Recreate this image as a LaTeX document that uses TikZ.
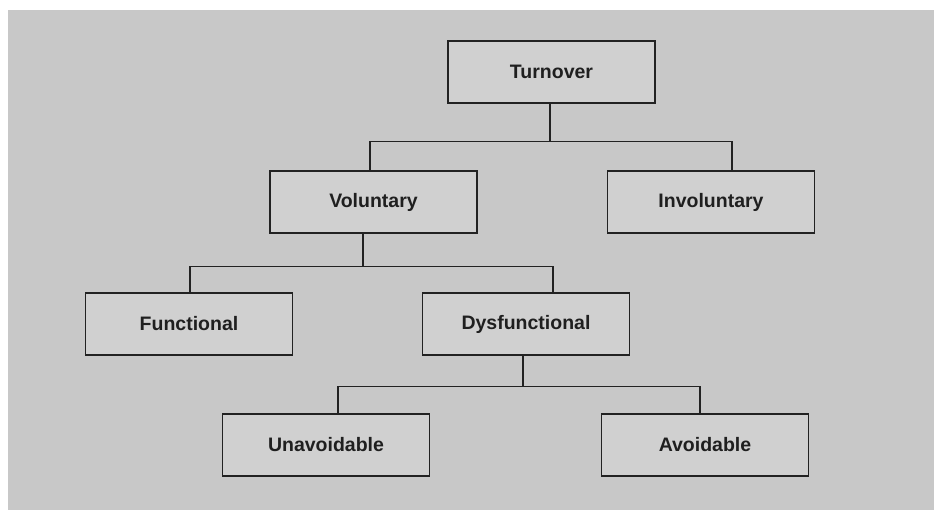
\documentclass[tikz,border=0pt]{standalone}
\usepackage{fontspec}
\setmainfont{Liberation Sans}
\definecolor{bggray}{HTML}{C8C8C8}
\definecolor{boxgray}{HTML}{D0D0D0}
\definecolor{linegray}{HTML}{222222}
\tikzset{
  catbox/.style={rectangle,draw=linegray,fill=boxgray,line width=1.4pt,
    minimum width=207pt,minimum height=62pt,inner sep=0pt,
    text=black!88,font=\fontsize{19.5}{22}\selectfont\bfseries},
  branch/.style={draw=linegray,line width=1.4pt}
}
\begin{document}
\begin{tikzpicture}[x=1pt,y=-1pt]
		\fill[white] (0,0) rectangle (934,510);
		\fill[bggray] (8,10) rectangle (934,510);
		\begin{scope}[every node/.style={catbox}]
		\node (turn) at (551.5,72) {Turnover};
		\node (vol) at (373.5,202) {Voluntary};
		\node (invol) at (711,202) {Involuntary};
		\node (func) at (189,324) {Functional};
		\node (dysf) at (526,324) {Dysfunctional};
		\node (unav) at (326,445) {Unavoidable};
		\node (avoid) at (705,445) {Avoidable};
		\end{scope}
		% level 1
		\draw[branch] ([xshift=-1.5]turn.south) -- ++(0,38) coordinate (j1);
		\draw[branch] ([xshift=-3.5]vol.north) |- (j1) -| ([xshift=21]invol.north);
		% level 2
		\draw[branch] ([xshift=-10.5]vol.south) -- ++(0,33) coordinate (j2);
		\draw[branch] ([xshift=1]func.north) |- (j2) -| ([xshift=27]dysf.north);
		% level 3
		\draw[branch] ([xshift=-3]dysf.south) -- ++(0,31) coordinate (j3);
		\draw[branch] ([xshift=12]unav.north) |- (j3) -| ([xshift=-5]avoid.north);
\end{tikzpicture}
\end{document}
